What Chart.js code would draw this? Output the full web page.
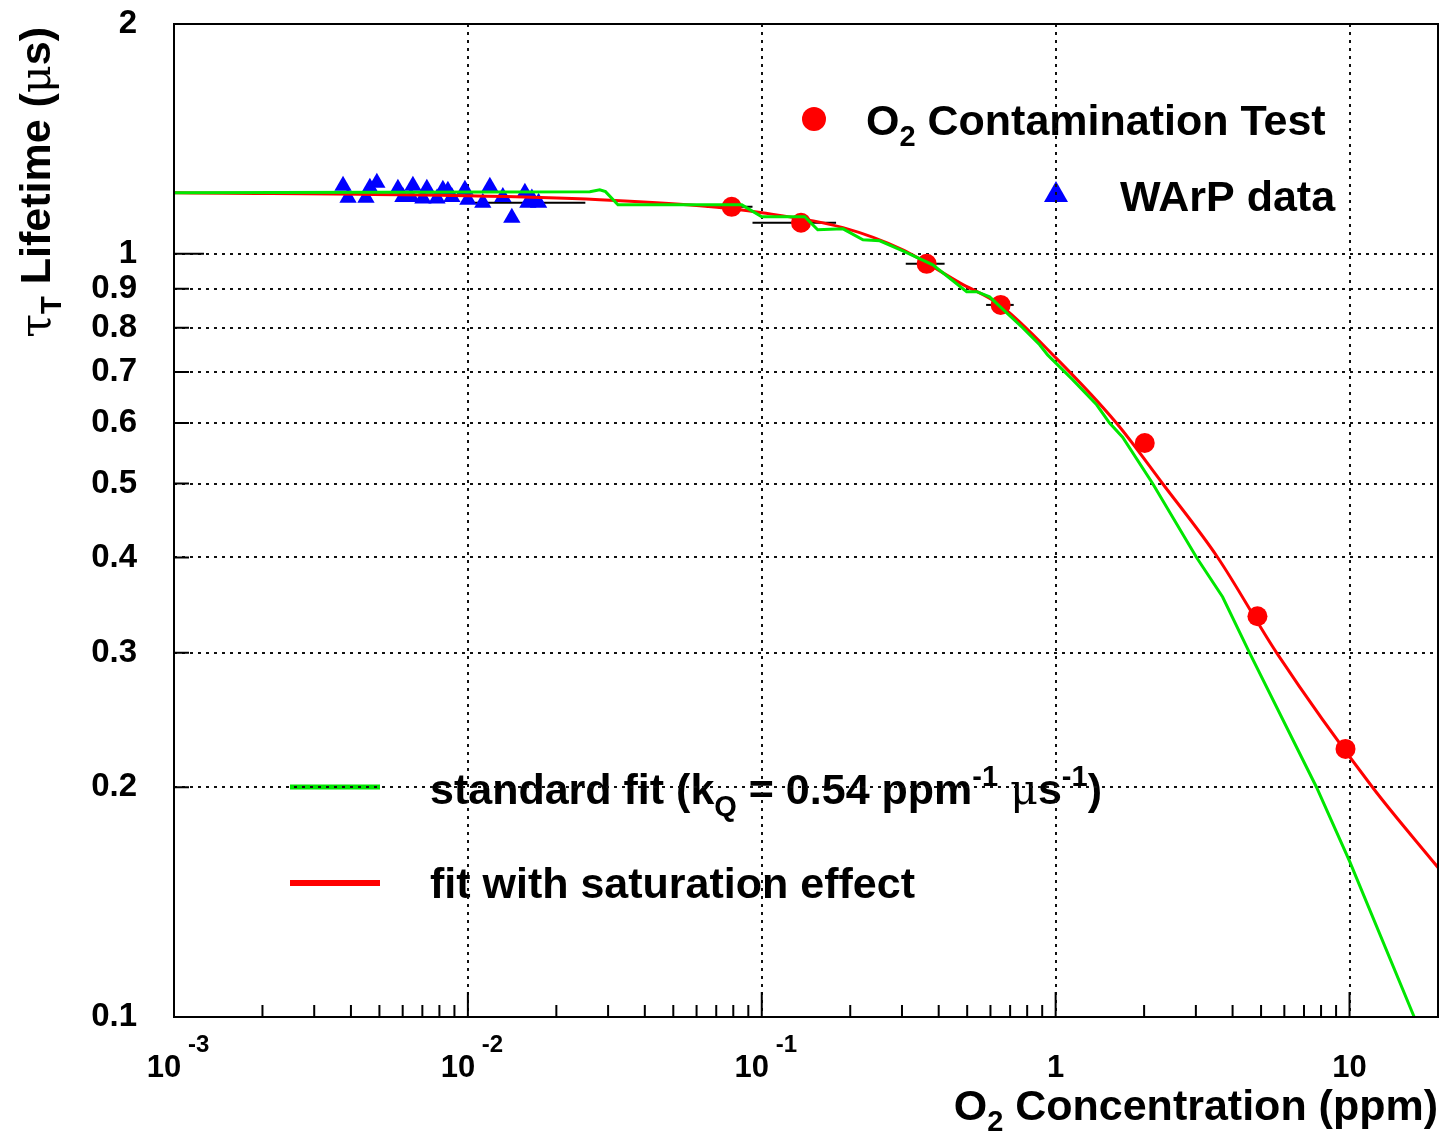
<!DOCTYPE html>
<html>
<head>
<meta charset="utf-8">
<script src="https://cdn.jsdelivr.net/npm/chart.js@4.4.0/dist/chart.umd.min.js"></script>
<style>
html, body { margin: 0; padding: 0; background: #fff; overflow: hidden; }
#wrap { width: 1442px; height: 1136px; overflow: hidden; }
canvas { display: block; }
</style>
</head>
<body>
<div id="wrap"><canvas id="lifetimeChart" width="1442" height="1136"></canvas></div>
<script>
// O2 contamination test points (ppm, us) with horizontal errors
var o2Conc = [0.079, 0.136, 0.364, 0.650, 2.01, 4.86, 9.69];
var o2Tau = [1.152, 1.098, 0.970, 0.857, 0.565, 0.335, 0.2245];
var o2ConcErr = [0.014, 0.043, 0.055, 0.07, 0, 0, 0];

// WArP data
var warpConc = [0.00376, 0.00391, 0.00450, 0.00464, 0.00490, 0.00578, 0.00601, 0.00650, 0.00640,
    0.00725, 0.00703, 0.00785, 0.00822, 0.00855, 0.00882, 0.00977, 0.0100, 0.01188, 0.01124,
    0.01315, 0.01411, 0.01563, 0.0160, 0.0174, 0.01651];
var warpTau = [1.228, 1.184, 1.184, 1.220, 1.239, 1.217, 1.187, 1.228, 1.187,
    1.217, 1.181, 1.181, 1.213, 1.209, 1.187, 1.213, 1.177, 1.224, 1.166,
    1.187, 1.115, 1.202, 1.166, 1.166, 1.181];
var warpConcErr = [0, 0, 0, 0, 0, 0, 0, 0, 0, 0, 0, 0, 0, 0, 0, 0, 0, 0, 0, 0, 0, 0, 0, 0.0077, 0];

// standard fit (green)
var stdFitConc = [0.001, 0.0260, 0.0281, 0.0294, 0.0324, 0.0855, 0.1, 0.140, 0.155, 0.189, 0.221,
    0.252, 0.302, 0.382, 0.498, 0.539, 0.596, 0.772, 0.882, 0.939, 1.142, 1.379, 1.526, 1.69,
    2.138, 3.017, 3.70, 4.57, 7.72, 10.0, 16.6];
var stdFitTau = [1.202, 1.206, 1.213, 1.206, 1.159, 1.159, 1.118, 1.118, 1.075, 1.078, 1.043,
    1.040, 1.009, 0.967, 0.892, 0.892, 0.878, 0.800, 0.760, 0.737, 0.684, 0.634, 0.600, 0.575,
    0.500, 0.400, 0.355, 0.300, 0.200, 0.160, 0.100];

// fit with saturation effect (red)
var satFitConc = [0.001, 0.01, 0.0281, 0.0615, 0.1, 0.189, 0.302, 0.472, 0.646, 1.0, 1.61,
    2.31, 3.56, 5.65, 11.97, 20];
var satFitTau = [1.202, 1.191, 1.177, 1.156, 1.132, 1.082, 1.012, 0.916, 0.857, 0.731, 0.600,
    0.500, 0.400, 0.300, 0.200, 0.157];

// axes
var xGridValues = [0.001, 0.01, 0.1, 1, 10];
var xLabelBase = ['10', '10', '10', '1', '10'];
var xLabelExp = ['-3', '-2', '-1', '', ''];
var xMinorValues = [0.002, 0.003, 0.004, 0.005, 0.006, 0.007, 0.008, 0.009,
    0.02, 0.03, 0.04, 0.05, 0.06, 0.07, 0.08, 0.09,
    0.2, 0.3, 0.4, 0.5, 0.6, 0.7, 0.8, 0.9,
    2, 3, 4, 5, 6, 7, 8, 9];
var yTickValues = [0.1, 0.2, 0.3, 0.4, 0.5, 0.6, 0.7, 0.8, 0.9, 1, 2];

var FONT = "'Liberation Sans', Arial, Helvetica, sans-serif";
var GREEK = "'DejaVu Serif', 'Liberation Serif', serif";
var B43 = "bold 43px " + FONT;
var B29 = "bold 29px " + FONT;
var G43 = "43px " + GREEK;

function toPoints(xs, ys) {
    return xs.map(function (x, i) { return { x: x, y: ys[i] }; });
}

function richWidth(ctx, parts) {
    var w = 0;
    parts.forEach(function (p) { ctx.font = p.f; w += ctx.measureText(p.t).width; });
    return w;
}

function drawRich(ctx, parts, x, y, align) {
    var w = richWidth(ctx, parts);
    var cx = align === 'right' ? x - w : (align === 'center' ? x - w / 2 : x);
    ctx.textAlign = 'left';
    ctx.textBaseline = 'alphabetic';
    parts.forEach(function (p) {
        ctx.font = p.f;
        ctx.fillText(p.t, cx, y + (p.dy || 0));
        cx += ctx.measureText(p.t).width;
    });
}

function noPadding(s) {
    s.paddingTop = 0;
    s.paddingBottom = 0;
    s.paddingLeft = 0;
    s.paddingRight = 0;
}

var decorations = {
    id: 'decorations',
    beforeDraw: function (chart) {
        // legends (grid is drawn over them afterwards, as in the original)
        var ctx = chart.ctx;
        ctx.save();
        ctx.fillStyle = '#ff0000';
        ctx.beginPath();
        ctx.arc(814, 119, 12, 0, Math.PI * 2);
        ctx.fill();
        ctx.fillStyle = '#0000ff';
        ctx.beginPath();
        ctx.moveTo(1056, 181);
        ctx.lineTo(1068, 202);
        ctx.lineTo(1044, 202);
        ctx.closePath();
        ctx.fill();

        ctx.fillStyle = '#000';
        drawRich(ctx, [{ t: 'O', f: B43 }, { t: '2', f: B29, dy: 11 }, { t: ' Contamination Test', f: B43 }], 866, 135, 'left');
        drawRich(ctx, [{ t: 'WArP data', f: B43 }], 1120, 211, 'left');

        ctx.lineWidth = 5;
        ctx.strokeStyle = '#00e600';
        ctx.beginPath(); ctx.moveTo(290, 787); ctx.lineTo(380, 787); ctx.stroke();
        ctx.lineWidth = 6;
        ctx.strokeStyle = '#ff0000';
        ctx.beginPath(); ctx.moveTo(290, 883); ctx.lineTo(380, 883); ctx.stroke();

        drawRich(ctx, [
            { t: 'standard fit (k', f: B43 }, { t: 'Q', f: B29, dy: 12 },
            { t: ' = 0.54 ppm', f: B43 }, { t: '-1', f: B29, dy: -18 },
            { t: ' ', f: B43 }, { t: '\u03bc', f: G43 }, { t: 's', f: B43 },
            { t: '-1', f: B29, dy: -18 }, { t: ')', f: B43 }
        ], 430, 804, 'left');
        drawRich(ctx, [{ t: 'fit with saturation effect', f: B43 }], 430, 898, 'left');
        ctx.restore();
    },
    beforeDatasetsDraw: function (chart) {
        // horizontal error bars
        var ctx = chart.ctx, xs = chart.scales.x, ys = chart.scales.y;
        ctx.save();
        ctx.strokeStyle = '#000';
        ctx.lineWidth = 2;
        function bars(cx, cy, ce) {
            for (var i = 0; i < cx.length; i++) {
                if (!ce[i]) continue;
                var py = ys.getPixelForValue(cy[i]);
                ctx.beginPath();
                ctx.moveTo(xs.getPixelForValue(cx[i] - ce[i]), py);
                ctx.lineTo(xs.getPixelForValue(cx[i] + ce[i]), py);
                ctx.stroke();
            }
        }
        bars(o2Conc, o2Tau, o2ConcErr);
        bars(warpConc, warpTau, warpConcErr);
        ctx.restore();
    },
    afterDraw: function (chart) {
        var ctx = chart.ctx, xs = chart.scales.x, ys = chart.scales.y, a = chart.chartArea;
        ctx.save();
        ctx.strokeStyle = '#000';
        ctx.lineWidth = 2;
        // inner tick marks
        ctx.beginPath();
        xMinorValues.forEach(function (v) {
            var px = xs.getPixelForValue(v);
            ctx.moveTo(px, a.bottom); ctx.lineTo(px, a.bottom - 12);
        });
        xGridValues.forEach(function (v) {
            var px = xs.getPixelForValue(v);
            ctx.moveTo(px, a.bottom); ctx.lineTo(px, a.bottom - 25);
        });
        yTickValues.forEach(function (v) {
            var py = ys.getPixelForValue(v);
            ctx.moveTo(a.left, py); ctx.lineTo(a.left + (v === 1 ? 30 : 15), py);
        });
        ctx.stroke();
        ctx.strokeRect(a.left, a.top, a.right - a.left, a.bottom - a.top);

        // x tick labels with exponents
        ctx.fillStyle = '#000';
        xGridValues.forEach(function (v, i) {
            var px = xs.getPixelForValue(v);
            var parts = [{ t: xLabelBase[i], f: 'bold 31px ' + FONT }];
            if (xLabelExp[i]) {
                parts.push({ t: ' ' + xLabelExp[i], f: 'bold 24px ' + FONT, dy: -25 });
            }
            drawRich(ctx, parts, px + (xLabelExp[i] ? 4 : 0), 1077, 'center');
        });

        // axis titles
        drawRich(ctx, [{ t: 'O', f: B43 }, { t: '2', f: B29, dy: 11 }, { t: ' Concentration (ppm)', f: B43 }], a.right, 1120, 'right');

        var yParts = [{ t: '\u03c4', f: G43 }, { t: 'T', f: B29, dy: 11 }, { t: ' Lifetime (', f: B43 },
            { t: '\u03bc', f: G43 }, { t: 's)', f: B43 }];
        var w = richWidth(ctx, yParts);
        ctx.translate(50, 27 + w);
        ctx.rotate(-Math.PI / 2);
        drawRich(ctx, yParts, 0, 0, 'left');
        ctx.restore();
    }
};

var ctx = document.getElementById('lifetimeChart').getContext('2d');
var lifetimeChart = new Chart(ctx, {
    type: 'scatter',
    data: {
        datasets: [{
            label: 'standard fit',
            data: toPoints(stdFitConc, stdFitTau),
            showLine: true,
            borderColor: '#00e600',
            borderWidth: 3,
            pointRadius: 0,
            fill: false
        }, {
            label: 'fit with saturation effect',
            data: toPoints(satFitConc, satFitTau),
            showLine: true,
            cubicInterpolationMode: 'monotone',
            borderColor: '#ff0000',
            borderWidth: 3,
            pointRadius: 0,
            fill: false
        }, {
            label: 'O2 Contamination Test',
            data: toPoints(o2Conc, o2Tau),
            pointStyle: 'circle',
            pointRadius: 10,
            backgroundColor: '#ff0000',
            borderWidth: 0
        }, {
            label: 'WArP data',
            data: toPoints(warpConc, warpTau),
            pointStyle: 'triangle',
            pointRadius: 10,
            backgroundColor: '#0000ff',
            borderWidth: 0
        }]
    },
    options: {
        responsive: false,
        animation: false,
        devicePixelRatio: 1,
        layout: { autoPadding: false, padding: { top: 24, right: 4, left: 0, bottom: 0 } },
        plugins: { legend: { display: false }, tooltip: { enabled: false } },
        scales: {
            x: {
                type: 'logarithmic',
                min: 0.001,
                max: 20,
                afterBuildTicks: function (s) { s.ticks = xGridValues.map(function (v) { return { value: v }; }); },
                afterFit: function (s) { s.height = 119; noPadding(s); },
                ticks: { display: false },
                grid: { color: '#111', lineWidth: 2, drawTicks: false },
                border: { display: false, dash: [3, 5] }
            },
            y: {
                type: 'logarithmic',
                min: 0.1,
                max: 2,
                afterBuildTicks: function (s) { s.ticks = yTickValues.map(function (v) { return { value: v }; }); },
                afterFit: function (s) { s.width = 174; noPadding(s); },
                ticks: {
                    autoSkip: false,
                    padding: 37,
                    color: '#000',
                    font: { family: FONT, size: 33, weight: 'bold' },
                    callback: function (v) { return String(v); }
                },
                grid: { color: '#111', lineWidth: 2, drawTicks: false },
                border: { display: false, dash: [3, 5] }
            }
        }
    },
    plugins: [decorations]
});
</script>
</body>
</html>
